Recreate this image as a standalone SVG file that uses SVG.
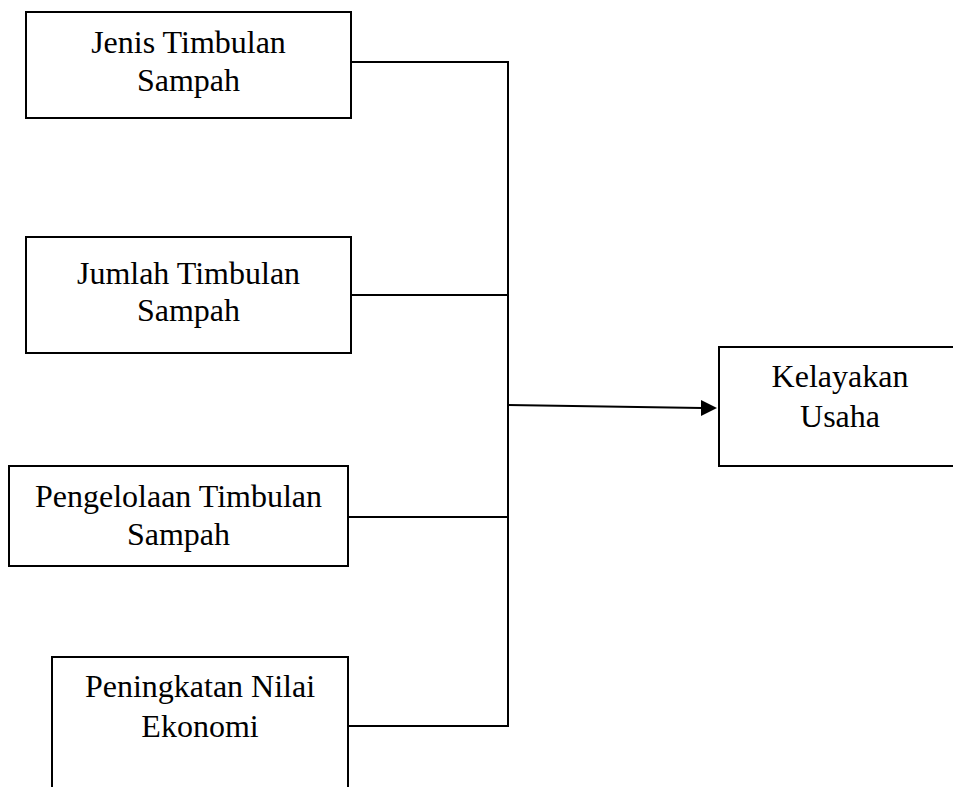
<svg xmlns="http://www.w3.org/2000/svg" width="953" height="787" viewBox="0 0 953 787">
<style>
.box{fill:#fff;stroke:#000;stroke-width:2}
.lbl{font-family:"Liberation Serif","Times New Roman",serif;font-size:32px;fill:#000;text-anchor:middle}
.ln{fill:none;stroke:#000;stroke-width:2}
</style>
<rect width="953" height="787" fill="#fff"/>
<g id="connectors">
<polyline class="ln" points="351,62 508,62 508,726 349,726"/>
<line class="ln" x1="351" y1="295" x2="508" y2="295"/>
<line class="ln" x1="348" y1="517" x2="508" y2="517"/>
<line class="ln" x1="508" y1="405" x2="702" y2="408"/>
<path d="M701,400 L717,408 L701,416 z" fill="#000"/>
</g>
<g id="n1"><rect class="box" x="26" y="12" width="325" height="106"/>
<text class="lbl" x="188.5" y="53">Jenis Timbulan</text><text class="lbl" x="188.5" y="91">Sampah</text></g>
<g id="n2"><rect class="box" x="26" y="237" width="325" height="116"/>
<text class="lbl" x="188.5" y="284">Jumlah Timbulan</text><text class="lbl" x="188.5" y="321">Sampah</text></g>
<g id="n3"><rect class="box" x="9" y="466" width="339" height="100"/>
<text class="lbl" x="178.5" y="507">Pengelolaan Timbulan</text><text class="lbl" x="178.5" y="545">Sampah</text></g>
<g id="n4"><rect class="box" x="52" y="657" width="296" height="140"/>
<text class="lbl" x="200" y="697">Peningkatan Nilai</text><text class="lbl" x="200" y="737">Ekonomi</text></g>
<g id="n5"><rect class="box" x="719" y="347" width="240" height="119"/>
<text class="lbl" x="840" y="387">Kelayakan</text><text class="lbl" x="840" y="427">Usaha</text></g>
</svg>
